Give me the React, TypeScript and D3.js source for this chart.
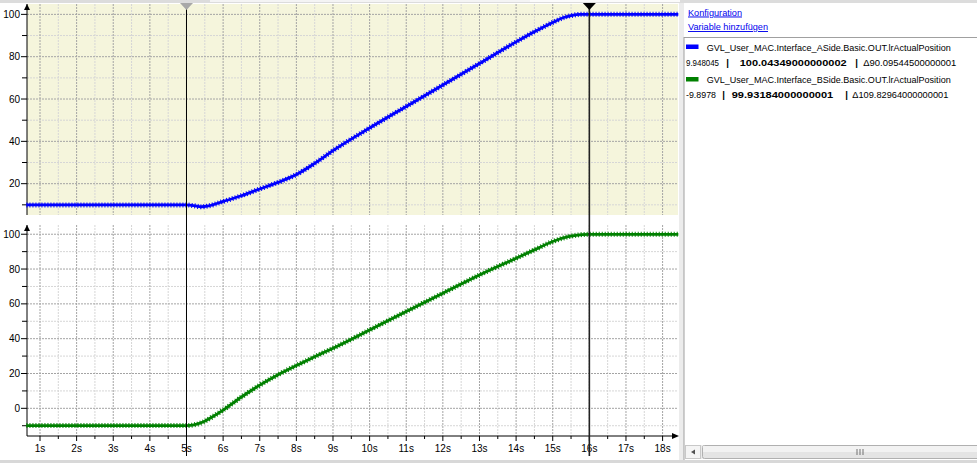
import React from "react";
import * as d3 from "d3";

// ---- data ----
const timeA = [0.63, 5.0, 5.2, 5.4, 5.6, 6.0, 6.5, 7.0, 7.5, 8.0, 8.5, 9.0, 10, 11, 12, 13, 14, 14.5, 15, 15.3, 15.5, 15.75, 16, 18.43];
const valA = [9.95, 9.95, 9.6, 9.1, 9.5, 11.6, 14.3, 17.5, 20.6, 24.3, 29.6, 35.6, 46.3, 56.5, 66.6, 76.8, 87, 91.8, 96.2, 98.5, 99.4, 100.0, 100.04, 100.04];
const timeB = [0.63, 5.0, 5.2, 5.45, 5.7, 6.0, 6.5, 7.0, 7.5, 8.0, 8.5, 9.0, 10, 11, 12, 13, 14, 14.5, 15, 15.45, 15.8, 16, 18.43];
const valB = [-9.9, -9.9, -9.5, -7.9, -5.0, -1.0, 6.5, 13.3, 19.3, 24.6, 29.6, 34.5, 45, 55.6, 66.1, 76.6, 86.2, 91, 95.8, 98.7, 99.8, 99.93, 99.93];

const xTickLabels = ["1s", "2s", "3s", "4s", "5s", "6s", "7s", "8s", "9s", "10s", "11s", "12s", "13s", "14s", "15s", "16s", "17s", "18s"];
const xTicks = d3.range(1, 19);
const xMinor = d3.range(1.5, 18, 1);
const topMajor = [20, 40, 60, 80, 100];
const topMinor = [10, 30, 50, 70, 90];
const botMajor = [0, 20, 40, 60, 80, 100];
const botMinor = [-10, 10, 30, 50, 70, 90];
const cursors = [5, 16];

const nameA = "GVL_User_MAC.Interface_ASide.Basic.OUT.lrActualPosition";
const nameB = "GVL_User_MAC.Interface_BSide.Basic.OUT.lrActualPosition";
const rowA = ["9.948045", "100.04349000000002", "\u039490.09544500000001"];
const rowB = ["-9.8978", "99.93184000000001", "\u0394109.82964000000001"];

const W = 977, H = 463;
const PL = 27, PR = 678;
const FONT = "'Liberation Sans', Arial, sans-serif";
const LF = 9.5;

export default function App() {
  const x = d3.scaleLinear().domain([1, 18]).range([40, 662.6]);
  const yT = d3.scaleLinear().domain([5.2, 104.9]).range([215, 4]);
  const yB = d3.scaleLinear().domain([-15.9, 105.3]).range([436, 225]);

  const lineA = d3.line<number>().x((d, i) => x(timeA[i])).y((d) => yT(d)).curve(d3.curveMonotoneX);
  const lineB = d3.line<number>().x((d, i) => x(timeB[i])).y((d) => yB(d)).curve(d3.curveMonotoneX);

  const majC = "#a4a4a4", minC = "#d6d6d6";

  const grid = (y: d3.ScaleLinear<number, number>, major: number[], minor: number[], top: number, bottom: number) => (
    <g>
      {xMinor.map((t) => (
        <line key={"vm" + t} x1={x(t)} x2={x(t)} y1={top} y2={bottom} stroke={minC} strokeDasharray="2,1" />
      ))}
      {minor.map((v) => (
        <line key={"hm" + v} x1={PL} x2={PR} y1={y(v)} y2={y(v)} stroke={minC} strokeDasharray="2,1" />
      ))}
      {xTicks.map((t) => (
        <line key={"vM" + t} x1={x(t)} x2={x(t)} y1={top} y2={bottom} stroke={majC} strokeDasharray="2,1" />
      ))}
      {major.map((v) => (
        <line key={"hM" + v} x1={PL} x2={PR} y1={y(v)} y2={y(v)} stroke={majC} strokeDasharray="2,1" />
      ))}
    </g>
  );

  const yAxis = (y: d3.ScaleLinear<number, number>, major: number[], minor: number[], top: number, bottom: number) => (
    <g>
      <line x1={PL} x2={PL} y1={top} y2={bottom} stroke="#000" />
      <path d={`M${PL - 3},${top + 6} L${PL},${top} L${PL + 3},${top + 6} Z`} fill="#000" />
      {minor.map((v) => (
        <line key={"tm" + v} x1={PL - 5} x2={PL} y1={y(v)} y2={y(v)} stroke="#000" />
      ))}
      {major.map((v) => (
        <g key={"tM" + v}>
          <line x1={PL - 6} x2={PL} y1={y(v)} y2={y(v)} stroke="#000" />
          <text x={20} y={y(v) + 3.5} textAnchor="end" fontSize={10} fontFamily={FONT} fill="#000">{v}</text>
        </g>
      ))}
    </g>
  );

  const legendRow = (vals: string[], y: number, xs: number[], ws: number[]) => (
    <g fontFamily={FONT} fontSize={LF} fill="#000">
      <text x={xs[0]} y={y} textLength={ws[0]} lengthAdjust="spacingAndGlyphs">{vals[0]}</text>
      <text x={xs[1]} y={y} fontWeight="bold" textAnchor="middle">|</text>
      <text x={xs[2]} y={y} fontWeight="bold" textLength={ws[2]} lengthAdjust="spacingAndGlyphs">{vals[1]}</text>
      <text x={xs[3]} y={y} fontWeight="bold" textAnchor="middle">|</text>
      <text x={xs[4]} y={y} textLength={ws[4]} lengthAdjust="spacingAndGlyphs">{vals[2]}</text>
    </g>
  );

  return (
    <svg width={W} height={H} style={{ position: "fixed", left: 0, top: 0, background: "#fff" }}>
      <rect x={0} y={0} width={W} height={H} fill="#fff" />
      {/* top strip */}
      <rect x={0} y={0} width={W} height={3} fill="#dcdcdc" />
      <rect x={210} y={0} width={320} height={2} fill="#f4f4f4" />
      <rect x={530} y={0} width={150} height={2} fill="#fbfbfb" />

      {/* top panel */}
      <rect x={PL} y={4} width={PR - PL} height={211} fill="#f5f5dc" />
      {grid(yT, topMajor, topMinor, 4, 215)}
      {yAxis(yT, topMajor, topMinor, 4, 215)}
      <path d={lineA(valA) || ""} fill="none" stroke="#0000ff" strokeWidth={2.8} />
      <path d={lineA(valA) || ""} fill="none" stroke="#0000ff" strokeWidth={5} strokeDasharray="1,2" />

      {/* bottom panel */}
      {grid(yB, botMajor, botMinor, 225, 436)}
      {yAxis(yB, botMajor, botMinor, 225, 436)}
      <line x1={PL} x2={PR - 2} y1={436} y2={436} stroke="#000" />
      <path d={`M${PR - 6},433 L${PR + 1},436 L${PR - 6},439 Z`} fill="#000" />
      {xMinor.map((t) => (
        <line key={"xm" + t} x1={x(t)} x2={x(t)} y1={436} y2={439} stroke="#000" />
      ))}
      {xTicks.map((t, i) => (
        <g key={"xM" + t}>
          <line x1={x(t)} x2={x(t)} y1={436} y2={441} stroke="#000" />
          <text x={x(t)} y={452} textAnchor="middle" fontSize={10} fontFamily={FONT} fill="#000">{xTickLabels[i]}</text>
        </g>
      ))}
      <path d={lineB(valB) || ""} fill="none" stroke="#008000" strokeWidth={2.8} />
      <path d={lineB(valB) || ""} fill="none" stroke="#008000" strokeWidth={5} strokeDasharray="1,2" />

      {/* cursors */}
      {cursors.map((c, i) => (
        <g key={"c" + c}>
          <line x1={x(c)} x2={x(c)} y1={4} y2={456} stroke={i === 0 ? "#000" : "#222"} strokeWidth={i === 0 ? 1 : 1.6} />
          <path d={`M${x(c) - 6.5},3 L${x(c) + 6.5},3 L${x(c)},10 Z`} fill={i === 0 ? "#a8a8a8" : "#000"} />
        </g>
      ))}

      {/* separator */}
      <rect x={679} y={3} width={5} height={457} fill="#ececec" />
      <line x1={684} x2={684} y1={37} y2={460} stroke="#a0a0a0" />
      <line x1={684} x2={W} y1={37.5} y2={37.5} stroke="#a0a0a0" />
      <rect x={685} y={38} width={292} height={407} fill="#fff" />

      {/* links */}
      <g fontFamily={FONT} fontSize={LF} fill="#0000ee" textDecoration="underline">
        <text x={688} y={15.5} textLength={54} lengthAdjust="spacingAndGlyphs">Konfiguration</text>
        <text x={688} y={30} textLength={80} lengthAdjust="spacingAndGlyphs">Variable hinzufügen</text>
      </g>

      {/* legend */}
      <rect x={686} y={44.5} width={12.5} height={4.5} fill="#0000ff" />
      <text x={706.7} y={50.5} fontFamily={FONT} fontSize={LF} textLength={244} lengthAdjust="spacingAndGlyphs">{nameA}</text>
      {legendRow(rowA, 65.5, [686, 727.5, 739.7, 856.5, 863.3], [33, 0, 107, 0, 93])}
      <rect x={686} y={77} width={12.5} height={4.5} fill="#008000" />
      <text x={706.7} y={83} fontFamily={FONT} fontSize={LF} textLength={244} lengthAdjust="spacingAndGlyphs">{nameB}</text>
      {legendRow(rowB, 98, [686, 723.5, 731.7, 846.5, 852.3], [30, 0, 101.6, 0, 96])}

      {/* scrollbar */}
      <rect x={685} y={445} width={292} height={14} fill="#eaeaea" />
      <rect x={685.5} y={445.5} width={15} height={13} fill="#f4f4f4" stroke="#c8c8c8" />
      <path d="M691,452 L695,449.5 L695,454.5 Z" fill="#505050" />
      <rect x={702.5} y={445.5} width={280} height={13} rx={2} fill="#e4e4e4" stroke="#b0b0b0" />
      <rect x={703} y={446} width={279} height={6} fill="#f2f2f2" />
      {[-3, 0, 3].map((d) => (
        <line key={"g" + d} x1={860 + d} x2={860 + d} y1={449} y2={455} stroke="#707070" />
      ))}

      {/* bottom strip */}
      <rect x={0} y={460} width={W} height={3} fill="#d8d8d8" />
    </svg>
  );
}
